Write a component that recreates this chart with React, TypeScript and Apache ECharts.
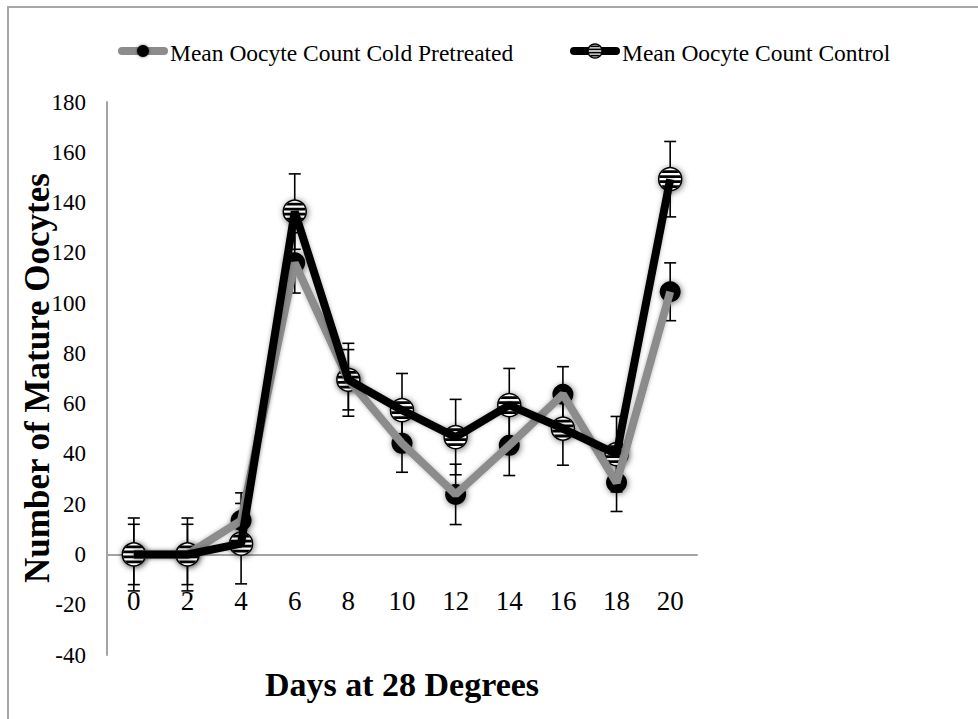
import React, { useEffect, useRef } from "react";
import * as echarts from "echarts";

// ---- data ----
const days = ["0", "2", "4", "6", "8", "10", "12", "14", "16", "18", "20"];
const coldMean = [0, 0, 13.5, 116, 69.5, 44.2, 23.9, 43.4, 63.7, 28.6, 104.5];
const coldErr = [12, 12, 11, 12, 12, 11.5, 12, 12, 11, 11.5, 11.5];
const controlMean = [0, 0, 4.3, 136.4, 69.5, 57.4, 46.7, 59.4, 50.1, 39.9, 149.3];
const controlErr = [14.5, 14.5, 16, 15, 14.5, 14.6, 15, 14.6, 14.6, 15, 15];
const yMin = -40;
const yMax = 180;
const yStep = 20;

const coldName = "Mean Oocyte Count Cold Pretreated";
const controlName = "Mean Oocyte Count Control";
const xTitle = "Days at 28 Degrees";
const yTitle = "Number of Mature Oocytes";

const SERIF = '"Liberation Serif", "Times New Roman", serif';
const GRAY = "#8c8c8c";
const AXIS_GRAY = "#a3a3a3";
const SHADOW = "rgba(0,0,0,0.55)";

const GRID_TOP = 102;
const GRID_BOTTOM = 64;
const CHART_H = 719;
// the x axis sits on y = 0: shift it up from the grid bottom by that distance
const plotH = CHART_H - GRID_TOP - GRID_BOTTOM;
const xAxisOffset = -(plotH * (0 - yMin)) / (yMax - yMin);

function stripedMarker(cx: number, cy: number, r: number, shadow: boolean) {
  const children: any[] = [
    {
      type: "circle",
      shape: { cx, cy, r },
      style: {
        fill: "#fff",
        stroke: "#000",
        lineWidth: 1.5,
        shadowBlur: shadow ? 6 : 0,
        shadowOffsetX: shadow ? 1 : 0,
        shadowOffsetY: shadow ? 1 : 0,
        shadowColor: SHADOW,
      },
    },
  ];
  const t = 0.24 * r;
  const ri = r - 0.5;
  [-0.65, -0.22, 0.22, 0.65].forEach((f) => {
    const dy = f * r;
    const y1 = dy - t / 2;
    const y2 = dy + t / 2;
    const h1 = Math.sqrt(Math.max(0, ri * ri - y1 * y1));
    const h2 = Math.sqrt(Math.max(0, ri * ri - y2 * y2));
    children.push({
      type: "polygon",
      shape: {
        points: [
          [cx - h1, cy + y1],
          [cx + h1, cy + y1],
          [cx + h2, cy + y2],
          [cx - h2, cy + y2],
        ],
      },
      style: { fill: "#000" },
    });
  });
  return children;
}

function errorSeries(mean: number[], err: number[]) {
  return {
    type: "custom",
    data: mean.map((m, i) => [i, m - err[i], m + err[i]]),
    encode: { x: 0, y: [1, 2] },
    silent: true,
    renderItem: (params: any, api: any) => {
      const x = api.value(0);
      const lo = api.coord([x, api.value(1)]);
      const hi = api.coord([x, api.value(2)]);
      const w = 6;
      const style = { stroke: "#000", lineWidth: 1.6 };
      return {
        type: "group",
        children: [
          { type: "line", shape: { x1: lo[0], y1: lo[1], x2: hi[0], y2: hi[1] }, style },
          { type: "line", shape: { x1: hi[0] - w, y1: hi[1], x2: hi[0] + w, y2: hi[1] }, style },
          { type: "line", shape: { x1: lo[0] - w, y1: lo[1], x2: lo[0] + w, y2: lo[1] }, style },
        ],
      };
    },
  };
}

export default function App() {
  const ref = useRef<HTMLDivElement>(null);

  useEffect(() => {
    if (!ref.current) return;
    const chart = echarts.init(ref.current, undefined, { renderer: "svg" });

    const option: any = {
      animation: false,
      backgroundColor: "#fff",
      grid: { left: 107, right: 281, top: GRID_TOP, bottom: GRID_BOTTOM, containLabel: false },
      xAxis: {
        type: "category",
        data: days,
        boundaryGap: true,
        offset: xAxisOffset,
        axisLine: { onZero: false, lineStyle: { color: AXIS_GRAY, width: 2 } },
        axisTick: { show: false },
        splitLine: { show: false },
        axisLabel: { color: "#000", fontFamily: SERIF, fontSize: 27, margin: 33 },
      },
      yAxis: {
        type: "value",
        min: yMin,
        max: yMax,
        interval: yStep,
        axisLine: { show: true, lineStyle: { color: AXIS_GRAY, width: 2 } },
        axisTick: { show: false },
        splitLine: { show: false },
        axisLabel: { color: "#000", fontFamily: SERIF, fontSize: 23, margin: 21 },
      },
      graphic: [
        {
          type: "rect",
          z: -10,
          shape: { x: 8, y: 7, width: 1100, height: 1100 },
          style: { fill: "none", stroke: "#a6a6a6", lineWidth: 2 },
          silent: true,
        },
        // legend item 1
        {
          type: "line",
          shape: { x1: 122, y1: 51, x2: 164, y2: 51 },
          style: { stroke: GRAY, lineWidth: 8, lineCap: "round" },
        },
        {
          type: "circle",
          shape: { cx: 143, cy: 51, r: 6 },
          style: { fill: "#000", shadowBlur: 3, shadowColor: SHADOW },
        },
        {
          type: "text",
          x: 170,
          y: 53,
          style: {
            text: coldName,
            fontFamily: SERIF,
            fontSize: 23.5,
            fill: "#000",
            align: "left",
            verticalAlign: "middle",
          },
        },
        // legend item 2
        {
          type: "line",
          shape: { x1: 574, y1: 51, x2: 616, y2: 51 },
          style: { stroke: "#000", lineWidth: 8, lineCap: "round" },
        },
        {
          type: "group",
          children: stripedMarker(595, 51, 7, false),
        },
        {
          type: "text",
          x: 622,
          y: 53,
          style: {
            text: controlName,
            fontFamily: SERIF,
            fontSize: 23.5,
            fill: "#000",
            align: "left",
            verticalAlign: "middle",
          },
        },
        // axis titles
        {
          type: "text",
          x: 402,
          y: 684,
          style: {
            text: xTitle,
            fontFamily: SERIF,
            fontWeight: "bold",
            fontSize: 34,
            fill: "#000",
            align: "center",
            verticalAlign: "middle",
          },
        },
        {
          type: "text",
          x: 37,
          y: 378,
          rotation: Math.PI / 2,
          style: {
            text: yTitle,
            fontFamily: SERIF,
            fontWeight: "bold",
            fontSize: 35,
            fill: "#000",
            align: "center",
            verticalAlign: "middle",
          },
        },
      ],
      series: [
        {
          name: coldName,
          type: "line",
          data: coldMean,
          symbol: "none",
          lineStyle: { color: GRAY, width: 8, shadowBlur: 4, shadowColor: "rgba(0,0,0,0.3)" },
          itemStyle: { color: GRAY },
        },
        {
          name: controlName,
          type: "line",
          data: controlMean,
          symbol: "none",
          lineStyle: { color: "#000", width: 8, shadowBlur: 4, shadowColor: "rgba(0,0,0,0.3)" },
          itemStyle: { color: "#000" },
        },
        errorSeries(coldMean, coldErr),
        errorSeries(controlMean, controlErr),
        {
          type: "custom",
          data: coldMean.map((v, i) => [i, v]),
          encode: { x: 0, y: 1 },
          renderItem: (params: any, api: any) => {
            const p = api.coord([api.value(0), api.value(1)]);
            return {
              type: "circle",
              shape: { cx: p[0], cy: p[1], r: 10.5 },
              style: {
                fill: "#000",
                shadowBlur: 6,
                shadowOffsetX: 1,
                shadowOffsetY: 1,
                shadowColor: SHADOW,
              },
            };
          },
        },
        {
          type: "custom",
          data: controlMean.map((v, i) => [i, v]),
          encode: { x: 0, y: 1 },
          renderItem: (params: any, api: any) => {
            const p = api.coord([api.value(0), api.value(1)]);
            return { type: "group", children: stripedMarker(p[0], p[1], 11.5, true) };
          },
        },
      ],
    };

    chart.setOption(option);
    return () => chart.dispose();
  }, []);

  return (
    <div
      ref={ref}
      style={{ position: "fixed", left: 0, top: 0, width: 978, height: 719, background: "#fff" }}
    />
  );
}
